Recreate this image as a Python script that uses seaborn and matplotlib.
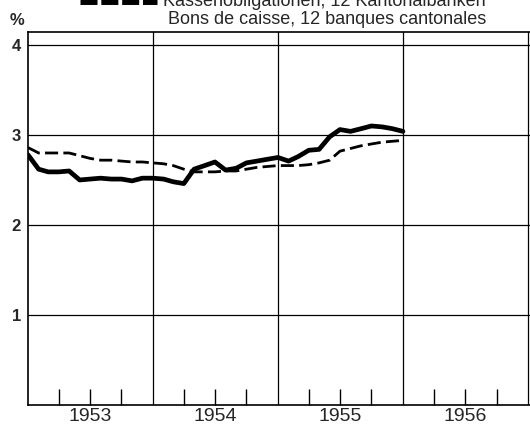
import numpy as np
import pandas as pd
import matplotlib
matplotlib.use("Agg")
import matplotlib.pyplot as plt
from matplotlib.lines import Line2D
import seaborn as sns

# monthly values, Jan 1953 .. Jan 1956
months = pd.date_range("1953-01-01", periods=37, freq="MS")
kantonal = [2.78, 2.62, 2.59, 2.59, 2.60, 2.50, 2.51, 2.52, 2.51, 2.51, 2.49, 2.52,
            2.52, 2.51, 2.48, 2.46, 2.62, 2.66, 2.70, 2.61, 2.63, 2.69, 2.71, 2.73,
            2.75, 2.71, 2.76, 2.83, 2.84, 2.98, 3.06, 3.04, 3.07, 3.10, 3.09, 3.07,
            3.04]
bons = [2.86, 2.80, 2.80, 2.80, 2.80, 2.77, 2.74, 2.72, 2.72, 2.71, 2.70, 2.70,
        2.69, 2.68, 2.66, 2.62, 2.59, 2.59, 2.59, 2.60, 2.60, 2.62, 2.64, 2.65,
        2.66, 2.66, 2.66, 2.67, 2.69, 2.72, 2.82, 2.85, 2.88, 2.90, 2.92, 2.93,
        2.94]
years = [1953, 1954, 1955, 1956]
yticks = [1, 2, 3, 4]

df = pd.DataFrame({"date": months, "solid": kantonal, "dashed": bons})

sns.set_style("white")
plt.rcParams["font.family"] = ["Liberation Sans", "DejaVu Sans"]

fig = plt.figure(figsize=(5.3, 4.29), dpi=100)
ax = fig.add_axes([28/530, 24/429, 502/530, 373/429])

sns.lineplot(data=df, x="date", y="solid", ax=ax, color="black", lw=3.4)
sns.lineplot(data=df, x="date", y="dashed", ax=ax, color="black", lw=2.0)
ax.lines[-1].set_dashes([4.7, 1.9])

ax.set_xlim(pd.Timestamp("1953-01-01"), pd.Timestamp("1957-01-06"))
ax.set_ylim(0, 4.144)

for y in yticks:
    ax.axhline(y, color="black", lw=0.9)
for yr in years[1:] + [1957]:
    ax.axvline(pd.Timestamp(f"{yr}-01-01"), color="black", lw=0.9)

# quarter tick marks inside, year labels centred
qt = [pd.Timestamp(f"{yr}-{m:02d}-01") for yr in years for m in (4, 7, 10)]
ax.set_xticks(qt)
ax.set_xticklabels([])
ax.tick_params(axis="x", which="major", direction="in", length=11.5, width=1.0,
               color="black", bottom=True)
mids = [pd.Timestamp(f"{yr}-07-02") for yr in years]
ax.set_xticks(mids, minor=True)
ax.set_xticklabels([str(y) for y in years], minor=True, fontsize=14)
ax.tick_params(axis="x", which="minor", length=0, pad=2)

ax.set_yticks(yticks)
ax.set_yticklabels([str(y) for y in yticks], fontsize=12, fontweight="bold")
ax.tick_params(axis="y", length=0, pad=5)
ax.set_xlabel("")
ax.set_ylabel("")

for s in ["left", "bottom", "top"]:
    ax.spines[s].set_color("black")
    ax.spines[s].set_linewidth(1.2)
ax.spines["right"].set_visible(False)

fig.text(10/530, 1 - 25/429, "%", fontsize=12, fontweight="bold", va="baseline")
fig.text(163/530, 1 - 6/429, "Kassenobligationen, 12 Kantonalbanken",
         fontsize=13, va="baseline")
fig.text(168/530, 1 - 24/429, "Bons de caisse, 12 banques cantonales",
         fontsize=13, va="baseline")
fig.add_artist(Line2D([80/530, 157/530], [1 - 1/429, 1 - 1/429],
                      transform=fig.transFigure, color="black", lw=5,
                      dashes=[2.45, 0.55]))

fig.savefig("out.png", dpi=100)
